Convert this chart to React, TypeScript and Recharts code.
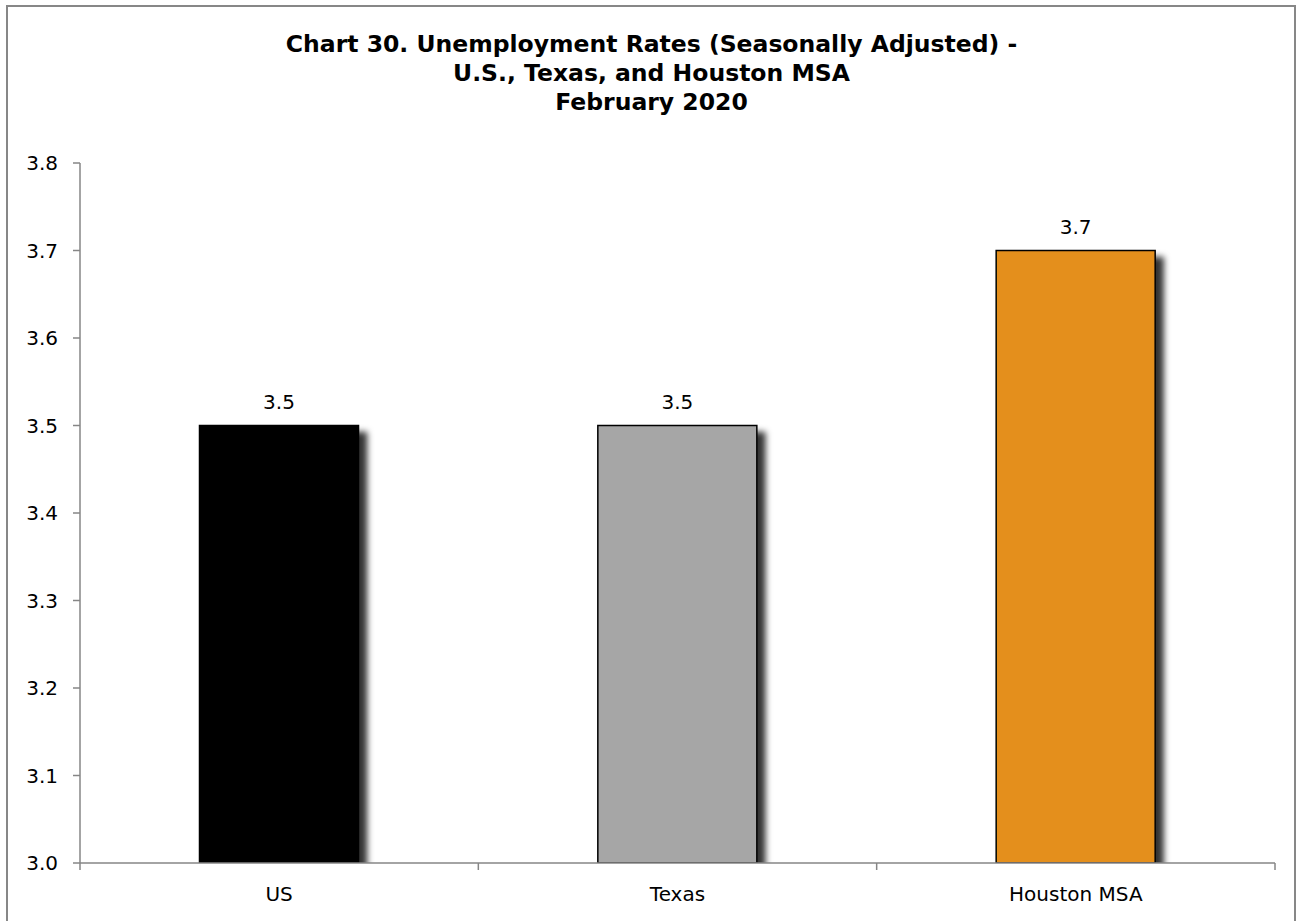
import { Bar, BarChart, Cell, LabelList, XAxis, YAxis } from "recharts";

const regions = ["US", "Texas", "Houston MSA"];
const rates = [3.5, 3.5, 3.7];
const barColors = ["#000000", "#a6a6a6", "#e48f1e"];
const rateTicks = [3.0, 3.1, 3.2, 3.3, 3.4, 3.5, 3.6, 3.7, 3.8];
const edgeTicks = [0, 1, 2, 3];
const titleLines = [
  "Chart 30. Unemployment Rates (Seasonally Adjusted) -",
  "U.S., Texas, and Houston MSA",
  "February 2020",
];

const data = regions.map((name, i) => ({ name, rate: rates[i], idx: i + 0.5 }));

const FONT = "'DejaVu Sans', sans-serif";
const AXIS = "#868686";

export default function App() {
  return (
    <div
      style={{
        position: "absolute",
        left: 0,
        top: 0,
        width: 1303,
        height: 921,
        background: "#fff",
        overflow: "hidden",
        fontFamily: FONT,
      }}
    >
      <div
        style={{
          position: "absolute",
          left: 6,
          top: 5,
          width: 1290,
          height: 940,
          border: "2px solid #878787",
          boxSizing: "border-box",
        }}
      />
      <div
        style={{
          position: "absolute",
          left: 0,
          top: 30,
          width: 1303,
          textAlign: "center",
          fontWeight: "bold",
          fontSize: 23.5,
          lineHeight: "29px",
          color: "#000",
        }}
      >
        {titleLines.map((t) => (
          <div key={t}>{t}</div>
        ))}
      </div>
      <BarChart
        width={1303}
        height={921}
        data={data}
        barCategoryGap="30%"
        margin={{ top: 163, right: 28, left: 0, bottom: 0 }}
        style={{ position: "absolute", left: 0, top: 0 }}
      >
        <defs>
          <filter id="barShadow" x="-10%" y="-10%" width="130%" height="130%">
            <feDropShadow dx="8" dy="7" stdDeviation="3" floodColor="#000" floodOpacity="0.8" />
          </filter>
        </defs>
        {/* boundary ticks between categories, sits right on the plot edge */}
        <XAxis
          type="number"
          dataKey="idx"
          domain={[0, 3]}
          ticks={edgeTicks}
          interval={0}
          height={1}
          tickFormatter={() => ""}
          tickSize={7}
          stroke={AXIS}
          strokeWidth={1.5}
        />
        <XAxis
          xAxisId="names"
          dataKey="name"
          height={57}
          axisLine={false}
          tickLine={false}
          tick={{ fill: "#000", fontSize: 20, fontFamily: FONT }}
          tickMargin={17}
        />
        <YAxis
          width={80}
          domain={[3.0, 3.8]}
          ticks={rateTicks}
          tickFormatter={(v: number) => v.toFixed(1)}
          tick={{ fill: "#000", fontSize: 20, fontFamily: FONT }}
          tickSize={7}
          tickMargin={15}
          stroke={AXIS}
          strokeWidth={1.5}
          allowDataOverflow
        />
        <Bar
          xAxisId="names"
          dataKey="rate"
          stroke="#000"
          strokeWidth={1.5}
          isAnimationActive={false}
        >
          {data.map((d, i) => (
            <Cell key={d.name} fill={barColors[i]} filter="url(#barShadow)" />
          ))}
          <LabelList
            dataKey="rate"
            position="top"
            offset={17}
            formatter={(v: number) => v.toFixed(1)}
            style={{ fill: "#000", fontSize: 20, fontFamily: FONT }}
          />
        </Bar>
      </BarChart>
    </div>
  );
}
